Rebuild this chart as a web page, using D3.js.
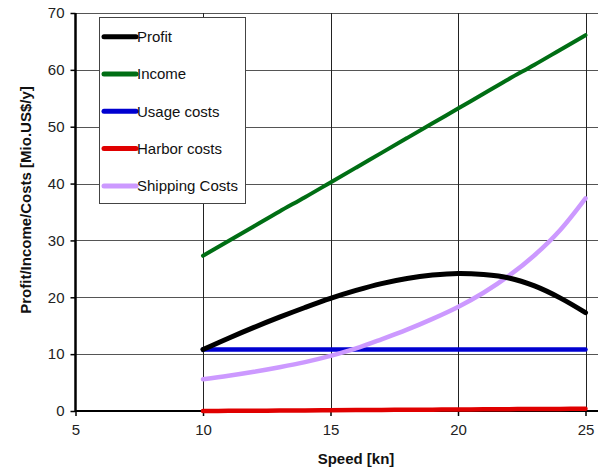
<!DOCTYPE html>
<html><head><meta charset="utf-8">
<script src="https://cdn.jsdelivr.net/npm/d3@7"></script>
<style>
body{margin:0;background:#fff;}
svg{display:block;}
text{font-family:"Liberation Sans",Arial,sans-serif;}
</style></head>
<body><svg id="c" width="598" height="467"></svg>
<script>
const speeds = [10,11,12,13,14,15,16,17,18,19,20,21,22,23,24,25];
const profit = [10.8,12.8,14.7,16.5,18.2,19.8,21.2,22.4,23.3,23.9,24.2,24.0,23.4,22.0,19.9,17.3];
const income = [27.3,29.9,32.5,35.1,37.6,40.2,42.8,45.4,48.0,50.6,53.2,55.8,58.4,60.9,63.5,66.1];
const usage = [10.8,10.8,10.8,10.8,10.8,10.8,10.8,10.8,10.8,10.8,10.8,10.8,10.8,10.8,10.8,10.8];
const harbor = [0.0,0.03,0.05,0.08,0.1,0.13,0.16,0.19,0.21,0.24,0.27,0.29,0.32,0.35,0.37,0.4];
const shipping = [5.6,6.2,6.9,7.7,8.6,9.7,11.0,12.6,14.3,16.2,18.3,20.8,23.8,27.4,31.8,37.4];
const xTicks = [5,10,15,20,25];
const yTicks = [0,10,20,30,40,50,60,70];
const seriesNames = ["Profit","Income","Usage costs","Harbor costs","Shipping Costs"];
const seriesColors = ["#000000","#006e14","#0000d0","#e00000","#cc99ff"];
const seriesWidths = [5,4,4.5,4.5,4.5];
const seriesData = [profit,income,usage,harbor,shipping];

const svg = d3.select("#c");
const x = d3.scaleLinear().domain([5,30]).range([75.5,713]);
const y = d3.scaleLinear().domain([0,70]).range([411,13]);

// gridlines
svg.append("g").selectAll("line").data(yTicks.filter(d=>d>0)).join("line")
  .attr("x1",x(5)).attr("x2",598).attr("y1",d=>Math.round(y(d))+0.5).attr("y2",d=>Math.round(y(d))+0.5)
  .attr("stroke","#555").attr("stroke-width",1);
svg.append("g").selectAll("line").data(xTicks.filter(d=>d>5)).join("line")
  .attr("x1",d=>Math.round(x(d))+0.5).attr("x2",d=>Math.round(x(d))+0.5).attr("y1",y(70)).attr("y2",y(0))
  .attr("stroke","#222").attr("stroke-width",1);

// axes
const xAxis = svg.append("g").attr("transform",`translate(0,${y(0)})`)
  .call(d3.axisBottom(x).tickValues(xTicks).tickSize(5).tickPadding(8).tickFormat(d3.format("d")));
xAxis.select(".domain").attr("d",`M${x(5)},0H598`).attr("stroke","#000").attr("stroke-width",2);
const yAxis = svg.append("g").attr("transform",`translate(${x(5)},0)`)
  .call(d3.axisLeft(y).tickValues(yTicks).tickSize(5).tickPadding(6).tickFormat(d3.format("d")));
yAxis.select(".domain").attr("d",`M0,${y(70)}V${y(0)+1}`).attr("stroke","#000").attr("stroke-width",2.5);
svg.selectAll(".tick text").attr("font-size",15).attr("fill","#222")
  .attr("font-family","'Liberation Sans',Arial,sans-serif");
svg.selectAll(".tick line").attr("stroke","#000").attr("stroke-width",1.5);

// lines
const line = d3.line().x((d,i)=>x(speeds[i])).y(d=>y(d)).curve(d3.curveCatmullRom.alpha(0.5));
const order = [3,2,4,1,0];
order.forEach(k=>{
  svg.append("path").datum(seriesData[k]).attr("d",line).attr("fill","none")
    .attr("stroke",seriesColors[k]).attr("stroke-width",seriesWidths[k])
    .attr("stroke-linecap","round").attr("stroke-linejoin","round");
});

// legend
const lg = svg.append("g");
lg.append("rect").attr("x",99.5).attr("y",17.5).attr("width",146).attr("height",186)
  .attr("fill","#fff").attr("stroke","#444").attr("stroke-width",1);
seriesNames.forEach((n,i)=>{
  const yy = 36.7 + i*37.3;
  lg.append("line").attr("x1",104).attr("x2",136).attr("y1",yy).attr("y2",yy)
    .attr("stroke",seriesColors[i]).attr("stroke-width",5).attr("stroke-linecap","round");
  lg.append("text").attr("x",137).attr("y",yy).attr("dy","0.35em").attr("font-size",15)
    .attr("fill","#111").text(n);
});

// axis titles
svg.append("text").attr("x",356).attr("y",464).attr("text-anchor","middle")
  .attr("font-family","'Liberation Sans Narrow','Arial Narrow',sans-serif").attr("font-weight","bold")
  .attr("font-size",15).attr("fill","#111").text("Speed [kn]");
svg.append("text").attr("transform","translate(31,200) rotate(-90)").attr("text-anchor","middle")
  .attr("font-family","'Liberation Sans Narrow','Arial Narrow',sans-serif").attr("font-weight","bold")
  .attr("font-size",15).attr("fill","#111").text("Profit/Income/Costs [Mio.US$/y]");
</script></body></html>
